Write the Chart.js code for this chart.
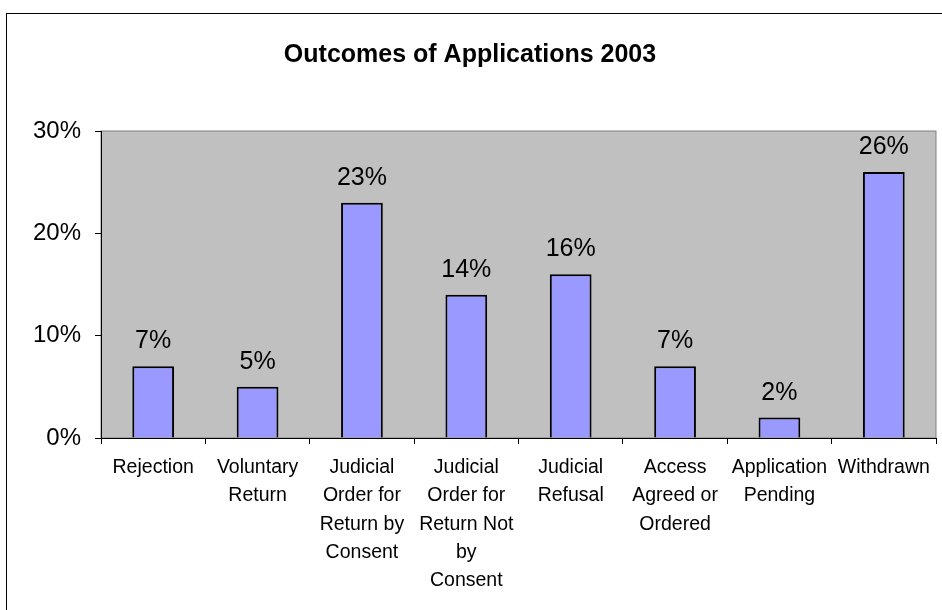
<!DOCTYPE html>
<html>
<head>
<meta charset="utf-8">
<script src="https://cdn.jsdelivr.net/npm/chart.js@4"></script>
<style>
  html, body { margin: 0; padding: 0; background: #fff; }
  #wrap { width: 942px; height: 610px; }
</style>
</head>
<body>
<div id="wrap"><canvas id="myChart" width="942" height="610"></canvas></div>
<script>
const categories = [
  "Rejection",
  ["Voluntary", "Return"],
  ["Judicial", "Order for", "Return by", "Consent"],
  ["Judicial", "Order for", "Return Not", "by", "Consent"],
  ["Judicial", "Refusal"],
  ["Access", "Agreed or", "Ordered"],
  ["Application", "Pending"],
  "Withdrawn"
];
const outcomes = [7, 5, 23, 14, 16, 7, 2, 26];
const yTicks = [0, 10, 20, 30];
const chartTitle = "Outcomes of Applications 2003";

const FONT = "Arial, 'Liberation Sans', sans-serif";

// gray plot area, outer frame, title and value labels
const decor = {
  id: "decor",
  beforeDraw(chart) {
    const c = chart.ctx;
    const a = chart.chartArea;
    c.save();
    c.fillStyle = "#fff";
    c.fillRect(0, 0, chart.width, chart.height);
    c.strokeStyle = "#000";
    c.lineWidth = 1;
    c.strokeRect(6.5, 13.5, chart.width + 20, chart.height + 20);
    c.fillStyle = "#C0C0C0";
    c.fillRect(a.left, a.top, a.right - a.left, a.bottom - a.top);
    c.strokeStyle = "#808080";
    c.strokeRect(a.left, a.top, a.right - a.left, a.bottom - a.top);
    c.fillStyle = "#000";
    c.font = "bold 25px " + FONT;
    c.textAlign = "center";
    c.textBaseline = "middle";
    c.fillText(chartTitle, 470, 55);
    c.restore();
  },
  afterDatasetsDraw(chart) {
    const c = chart.ctx;
    const meta = chart.getDatasetMeta(0);
    c.save();
    c.fillStyle = "#000";
    c.font = "25px " + FONT;
    c.textAlign = "center";
    c.textBaseline = "alphabetic";
    meta.data.forEach((bar, i) => {
      c.fillText(outcomes[i] + "%", bar.x, bar.y - 18);
    });
    c.restore();
  }
};

new Chart(document.getElementById("myChart"), {
  type: "bar",
  data: {
    labels: categories,
    datasets: [
      {
        data: outcomes,
        backgroundColor: "#9999FF",
        borderColor: "#000",
        borderWidth: 2,
        categoryPercentage: 1,
        barPercentage: 0.4,
      },
    ],
  },
  options: {
    responsive: false,
    animation: false,
    layout: { padding: { top: 131, right: 6, left: 0, bottom: 0 } },
    plugins: {
      legend: { display: false },
      title: { display: false },
      tooltip: { enabled: false },
    },
    scales: {
      x: {
        afterFit(scale) { scale.height = 172; },
        grid: { offset: true, drawOnChartArea: false, tickLength: 6, color: "#000" },
        border: { color: "#000", width: 1 },
        ticks: {
          maxRotation: 0,
          autoSkip: false,
          padding: 10,
          color: "#000",
          font: { family: FONT, size: 19.5, lineHeight: 1.44 },
        },
      },
      y: {
        min: 0,
        max: 30,
        afterFit(scale) { scale.width = 101; },
        afterBuildTicks(scale) { scale.ticks = yTicks.map(v => ({ value: v })); },
        grid: { drawOnChartArea: false, tickLength: 6, color: "#000" },
        border: { color: "#000", width: 1 },
        ticks: {
          padding: 14,
          color: "#000",
          font: { family: FONT, size: 24 },
          callback: v => v + "%",
        },
      },
    },
  },
  plugins: [decor],
});
</script>
</body>
</html>
